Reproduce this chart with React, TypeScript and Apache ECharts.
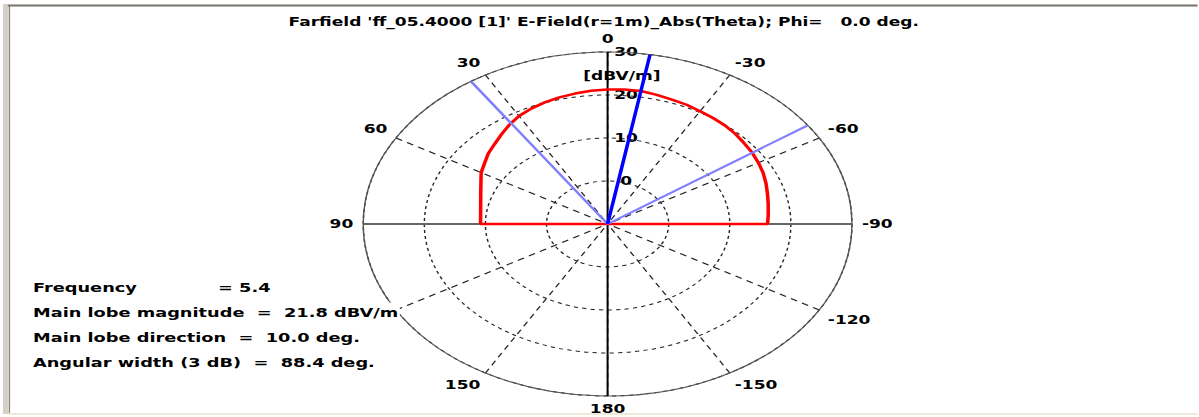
import React, { useEffect, useRef } from 'react';
import * as echarts from 'echarts';

// ---------- data ----------
const titleText = "Farfield 'ff_05.4000 [1]' E-Field(r=1m)_Abs(Theta); Phi=   0.0 deg.";
const unitLabel = '[dBV/m]';

// radial scale (dBV/m)
const radiusMin = -10;
const radiusMax = 30;
const radiusStep = 10;

// angle scale (deg), 0 at top, positive counter-clockwise
const angleStep = 30;
const hiddenAngleLabels = [120]; // covered by the info text in the original

// E-field pattern (theta in deg, value in dBV/m)
const patternAngles = [90, 80, 70, 60, 55, 50, 45, 40, 35, 30, 25, 20, 15, 10, 5, 0, -5, -10, -15, -20, -25, -30, -35, -40, -45, -50, -55, -60, -65, -70, -75, -80, -85, -90];
const patternDb = [10.8, 11.1, 12.1, 13.9, 14.6, 15.5, 16.2, 17.1, 18.1, 19.0, 19.6, 20.1, 20.5, 20.8, 21.1, 21.3, 21.4, 21.4, 21.1, 20.8, 20.6, 20.3, 20.1, 19.9, 19.6, 19.2, 18.9, 18.5, 18.1, 17.6, 17.1, 16.7, 16.4, 16.2];

// main lobe direction and 3 dB edges (drawn as angles)
const mainLobeAngle = -10;
const beamEdgeAngles = [34, -55];

// info block
const freqLabel = 'Frequency';
const freqValue = '= 5.4';
const infoLines = [
  'Main lobe magnitude  =  21.8 dBV/m',
  'Main lobe direction  =  10.0 deg.',
  'Angular width (3 dB)  =  88.4 deg.',
];

// ---------- layout ----------
const W = 844;
const H = 417;
const SX = 1199 / W;
const FONT = 'DejaVu Sans';

const toAxisAngle = (a: number) => (a < 0 ? a + 360 : a);

export default function App() {
  const ref = useRef<HTMLDivElement>(null);

  useEffect(() => {
    if (!ref.current) return;
    const chart = echarts.init(ref.current, undefined, { renderer: 'svg' });

    const patternData: number[][] = [[radiusMin, toAxisAngle(90)]];
    patternAngles.forEach((a, i) => patternData.push([patternDb[i], toAxisAngle(a)]));
    patternData.push([radiusMin, toAxisAngle(-90)]);

    const edgeData = [
      [radiusMax, toAxisAngle(beamEdgeAngles[0])],
      [radiusMin, 0],
      [radiusMax, toAxisAngle(beamEdgeAngles[1])],
    ];

    const labelFont = { fontFamily: FONT, fontWeight: 'bold' as const, fontSize: 12, color: '#000' };

    const infoY = [288, 313, 338, 363];
    const infoX = 33 / SX;

    const graphics: any[] = [
      { type: 'rect', shape: { x: 2.1, y: 4, width: 3.5, height: 410 }, style: { fill: '#d4d0c8' }, silent: true },
      { type: 'line', shape: { x1: 6.6, y1: 5, x2: 6.6, y2: 413 }, style: { stroke: '#8a877e', lineWidth: 1 }, silent: true },
      { type: 'line', shape: { x1: 5.5, y1: 5.5, x2: 843, y2: 5.5 }, style: { stroke: '#77736a', lineWidth: 2 }, silent: true },
      { type: 'line', shape: { x1: 5.5, y1: 414, x2: 843, y2: 414 }, style: { stroke: '#ece9d8', lineWidth: 2 }, silent: true },
      {
        type: 'text', x: infoX, y: infoY[0], z: 10,
        style: { text: freqLabel, font: `bold 12.5px "${FONT}"`, fill: '#000', verticalAlign: 'middle' },
      },
      {
        type: 'text', x: 218 / SX, y: infoY[0], z: 10,
        style: { text: freqValue, font: `bold 12.5px "${FONT}"`, fill: '#000', verticalAlign: 'middle' },
      },
      ...infoLines.map((t, i) => ({
        type: 'text', x: infoX, y: infoY[i + 1], z: 10,
        style: {
          text: t, font: `bold 12.5px "${FONT}"`, fill: '#000', verticalAlign: 'middle',
          backgroundColor: '#fff', padding: [4, 1, 4, 0],
        },
      })),
    ];

    chart.setOption({
      animation: false,
      backgroundColor: '#fff',
      title: {
        text: titleText,
        left: 420,
        textAlign: 'center',
        top: 11,
        textStyle: { fontFamily: FONT, fontWeight: 'bold', fontSize: 12, color: '#000' },
      },
      polar: { center: [427.7, 224], radius: 172 },
      angleAxis: {
        type: 'value',
        min: 0,
        max: 360,
        interval: angleStep,
        startAngle: 90,
        clockwise: false,
        axisLine: { show: true, lineStyle: { color: '#555', width: 1 } },
        axisTick: { show: false },
        axisLabel: {
          ...labelFont,
          margin: 7,
          align: 'center',
          formatter: (v: number) => {
            if (v === 360) return '';
            const a = v > 180 ? v - 360 : v;
            if (hiddenAngleLabels.includes(a)) return '';
            return String(a);
          },
        },
        splitLine: { show: true, lineStyle: { color: '#222', width: 1, type: [5, 4] } },
        z: 2,
      },
      radiusAxis: {
        type: 'value',
        min: radiusMin,
        max: radiusMax,
        interval: radiusStep,
        axisLine: { show: false },
        axisTick: { show: false },
        axisLabel: {
          ...labelFont,
          margin: -13,
          align: 'center',
          padding: [0, 0, 5, 0],
          showMaxLabel: true,
          formatter: (v: number) => (v === radiusMin ? '' : String(v)),
        },
        splitLine: { show: true, lineStyle: { color: '#222', width: 1, type: [3, 3] } },
        name: unitLabel,
        nameLocation: 'end',
        nameGap: -30,
        nameTextStyle: { ...labelFont, padding: [0, 0, 0, 20] },
        z: 1,
      },
      series: [
        {
          type: 'line', coordinateSystem: 'polar', symbol: 'none', silent: true,
          lineStyle: { color: '#666', width: 2 },
          data: [[radiusMax, 90], [radiusMin, 90], [radiusMax, 270]],
        },
        {
          type: 'line', coordinateSystem: 'polar', symbol: 'none', silent: true,
          lineStyle: { color: '#000', width: 1.4 },
          data: [[radiusMax, 0], [radiusMin, 0], [radiusMax, 180]],
        },
        {
          type: 'line', coordinateSystem: 'polar', symbol: 'none', silent: true,
          lineStyle: { color: '#ff0000', width: 2.5 },
          data: patternData,
        },
        {
          type: 'line', coordinateSystem: 'polar', symbol: 'none', silent: true,
          lineStyle: { color: '#8080ff', width: 2 },
          data: edgeData,
        },
        {
          type: 'line', coordinateSystem: 'polar', symbol: 'none', silent: true,
          lineStyle: { color: '#0000ff', width: 2.5 },
          data: [[radiusMin, toAxisAngle(mainLobeAngle)], [radiusMax, toAxisAngle(mainLobeAngle)]],
        },
      ],
      graphic: graphics,
    });

    return () => chart.dispose();
  }, []);

  return (
    <div
      style={{
        position: 'fixed', left: 0, top: 0, width: 1199, height: H,
        background: '#fff', overflow: 'hidden',
      }}
    >
      <div
        ref={ref}
        style={{
          width: W, height: H,
          transform: `scaleX(${SX})`, transformOrigin: '0 0',
        }}
      />
    </div>
  );
}
